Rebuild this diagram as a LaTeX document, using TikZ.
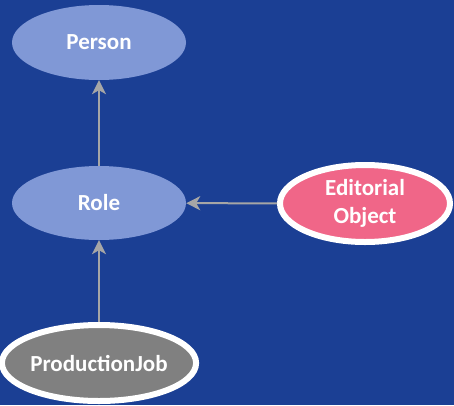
\documentclass[tikz,border=0pt]{standalone}
\usepackage{fontspec}
\setmainfont{Carlito}
\usepackage{tikz}
\usetikzlibrary{positioning,shapes,arrows.meta}
\definecolor{bgblue}{RGB}{27,63,148}
\definecolor{classblue}{RGB}{128,152,214}
\definecolor{objpink}{RGB}{240,102,136}
\definecolor{jobgray}{RGB}{128,128,128}
\definecolor{linkgray}{RGB}{166,166,166}
\tikzset{cls/.style={ellipse,fill=classblue,text=white,font=\fontsize{23}{28}\selectfont\bfseries,align=center,inner sep=0pt},
         rimcls/.style={cls,draw=white,line width=6pt},
         line/.style={-{Stealth[length=14pt,width=14pt,inset=4pt]},draw=linkgray,line width=2pt}
}

\begin{document}
\begin{tikzpicture}[x=1pt,y=1pt,yscale=-1,xscale=1]
%background, 454 x 405
\fill[bgblue] (0,0) rectangle (454,405);
\useasboundingbox (0,0) rectangle (454,405);

%Ellipse: Person
\node [cls,minimum width=174pt,minimum height=75pt] (person) at (99,42.5) {Person};
%Ellipse: Role
\node [cls,minimum width=174pt,minimum height=74pt] (role) at (99,203) {Role};
%Ellipse: Editorial Object
\node [rimcls,fill=objpink,minimum width=170pt,minimum height=77pt] (editorial) at (365,203.5) {Editorial\\Object};
%Ellipse: ProductionJob
\node [rimcls,fill=jobgray,minimum width=176pt,minimum height=76pt] (job) at (99,363) {ProductionJob};

%Straight Lines
\draw [line] (role) -- (person);
\draw [line] (editorial) -- (role);
\draw [line] (job) -- (role);

\end{tikzpicture}
\end{document}
